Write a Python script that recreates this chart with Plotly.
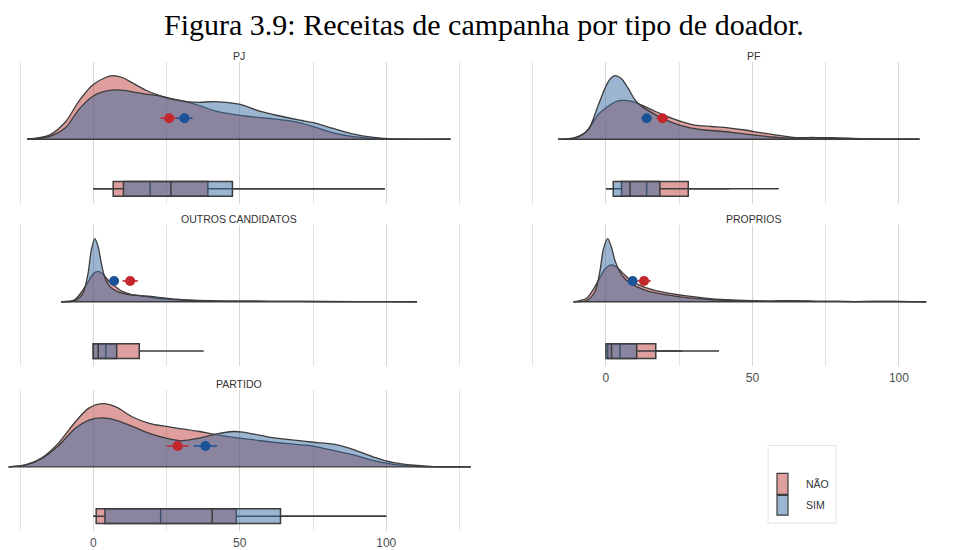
import plotly.graph_objects as go

# ---------------- dados ----------------
paineis = ["PJ", "PF", "OUTROS CANDIDATOS", "PROPRIOS", "PARTIDO"]
grupos = ["NÃO", "SIM"]

# densidades escaladas (maior curva de cada painel = 1)
pj_x_nao = [-22.6, -15.2, -9.5, -4.9, 0.0, 4.2, 6.5, 9.9, 13.4, 17.9, 22.5, 27.1, 31.7, 36.2,
            41.9, 47.7, 54.5, 61.4, 68.2, 75.1, 81.9, 88.8, 95.7, 104.8, 121.9]
pj_d_nao = [0.0, 0.06, 0.27, 0.60, 0.86, 0.97, 1.0, 0.97, 0.885, 0.77, 0.69, 0.635, 0.59, 0.53,
            0.44, 0.39, 0.35, 0.32, 0.28, 0.20, 0.10, 0.04, 0.01, 0.0, 0.0]
pj_x_sim = [-22.6, -15.2, -9.5, -4.9, 0.0, 4.2, 7.1, 11.1, 13.4, 17.9, 22.5, 27.1, 31.7, 36.2,
            40.8, 45.3, 49.9, 56.8, 63.7, 70.5, 75.1, 81.9, 88.8, 95.7, 102.5, 121.9]
pj_d_sim = [0.0, 0.04, 0.18, 0.47, 0.68, 0.755, 0.775, 0.765, 0.745, 0.71, 0.68, 0.625, 0.59, 0.58,
            0.59, 0.58, 0.55, 0.44, 0.365, 0.30, 0.26, 0.17, 0.08, 0.03, 0.005, 0.0]

pf_x_nao = [-16.3, -10.6, -7.2, -4.9, -2.6, 0.2, 3.1, 5.3, 8.8, 12.2, 16.7, 21.3, 25.8, 30.3,
            36.0, 41.7, 47.4, 53.1, 57.6, 63.9, 70.7, 77.5, 87.7, 107.0]
pf_d_nao = [0.0, 0.026, 0.10, 0.23, 0.39, 0.50, 0.585, 0.61, 0.595, 0.535, 0.44, 0.35, 0.275, 0.22,
            0.20, 0.18, 0.145, 0.10, 0.07, 0.03, 0.02, 0.026, 0.01, 0.0]
pf_x_sim = [-16.3, -10.6, -6.0, -2.6, 0.2, 1.9, 3.3, 5.3, 7.6, 9.9, 11.6, 16.7, 22.4, 28.1,
            33.8, 39.4, 45.1, 50.8, 56.5, 63.9, 70.7, 77.5, 87.7, 107.0]
pf_d_sim = [0.0, 0.016, 0.155, 0.54, 0.855, 0.97, 1.0, 0.95, 0.80, 0.62, 0.54, 0.39, 0.265, 0.185,
            0.145, 0.125, 0.095, 0.065, 0.035, 0.016, 0.03, 0.01, 0.005, 0.0]

oc_x_nao = [-11.0, -6.4, -3.6, -1.8, -0.1, 1.6, 3.3, 5.6, 7.4, 9.7, 13.1, 16.6, 21.1, 25.7,
            32.6, 45.0, 60.0, 80.0, 100.0, 110.5]
oc_d_nao = [0.0, 0.03, 0.18, 0.31, 0.44, 0.48, 0.44, 0.31, 0.245, 0.17, 0.115, 0.09, 0.06, 0.04,
            0.026, 0.012, 0.008, 0.005, 0.003, 0.0]
oc_x_sim = [-11.0, -6.4, -3.6, -1.8, -0.7, 0.5, 1.6, 2.8, 3.9, 5.6, 8.5, 12.0, 15.4, 21.1,
            28.0, 34.9, 44.0, 60.0, 80.0, 100.0, 110.5]
oc_d_sim = [0.0, 0.016, 0.13, 0.44, 0.81, 1.0, 0.885, 0.60, 0.39, 0.245, 0.156, 0.115, 0.10, 0.078,
            0.04, 0.02, 0.01, 0.008, 0.004, 0.003, 0.0]

pr_x_nao = [-11.1, -6.6, -3.75, -2.0, -0.3, 1.9, 3.6, 5.9, 8.2, 11.6, 16.1, 21.8, 27.5, 35.5,
            44.5, 55.0, 63.0, 72.0, 85.0, 98.0, 109.3]
pr_d_nao = [0.0, 0.057, 0.24, 0.39, 0.52, 0.585, 0.55, 0.45, 0.35, 0.26, 0.19, 0.135, 0.093, 0.05,
            0.026, 0.012, 0.018, 0.008, 0.004, 0.006, 0.0]
pr_x_sim = [-11.1, -6.6, -3.75, -2.0, -0.9, 0.6, 1.9, 3.1, 4.8, 7.0, 10.5, 15.0, 20.7, 27.5,
            35.5, 44.5, 55.0, 63.0, 72.0, 85.0, 98.0, 109.3]
pr_d_sim = [0.0, 0.02, 0.16, 0.50, 0.83, 1.0, 0.86, 0.65, 0.47, 0.34, 0.24, 0.16, 0.11, 0.067,
            0.036, 0.02, 0.01, 0.016, 0.008, 0.004, 0.005, 0.0]

pa_x_nao = [-28.9, -23.2, -17.5, -11.8, -6.1, -1.5, 3.1, 7.7, 13.4, 19.1, 24.8, 30.5, 36.2, 40.8,
            47.7, 54.5, 61.4, 68.2, 75.1, 81.9, 88.8, 95.7, 102.5, 109.4, 116.2, 128.8]
pa_d_nao = [0.0, 0.03, 0.145, 0.38, 0.715, 0.93, 1.0, 0.95, 0.79, 0.69, 0.64, 0.60, 0.56, 0.52,
            0.466, 0.43, 0.39, 0.36, 0.33, 0.26, 0.19, 0.10, 0.04, 0.01, 0.002, 0.0]
pa_x_sim = [-28.9, -23.2, -17.5, -11.8, -6.1, -1.5, 3.1, 7.7, 13.4, 19.1, 24.8, 30.5, 36.2, 41.9,
            47.7, 51.1, 59.1, 67.1, 75.1, 81.9, 88.8, 95.7, 102.5, 109.4, 116.2, 128.8]
pa_d_sim = [0.0, 0.026, 0.135, 0.34, 0.61, 0.74, 0.777, 0.74, 0.64, 0.53, 0.456, 0.415, 0.456, 0.52,
            0.56, 0.55, 0.48, 0.43, 0.39, 0.36, 0.275, 0.155, 0.067, 0.026, 0.005, 0.0]

# médias com intervalo
media_nao = [25.9, 19.3, 12.6, 13.0, 28.8]
erro_nao = [3.0, 2.0, 2.6, 2.3, 3.7]
media_sim = [31.1, 13.9, 7.1, 9.1, 38.3]
erro_sim = [2.8, 1.8, 1.5, 1.5, 4.0]

# estatísticas dos boxplots
q1_nao = [6.8, 5.3, 0.0, 0.6, 1.0]
med_nao = [19.4, 13.9, 4.3, 4.8, 23.0]
q3_nao = [39.1, 28.1, 15.7, 17.0, 48.8]
min_nao = [0.0, 0.0, 0.0, 0.0, 0.0]
max_nao = [99.5, 59.0, 37.7, 38.6, 100.0]
q1_sim = [10.3, 2.5, 0.0, 0.0, 4.0]
med_sim = [26.5, 8.2, 1.7, 1.9, 40.6]
q3_sim = [47.5, 18.4, 8.0, 10.5, 63.9]
min_sim = [0.0, 0.0, 0.0, 0.0, 0.0]
max_sim = [99.5, 42.0, 8.0, 26.0, 100.0]

dens_x_nao = [pj_x_nao, pf_x_nao, oc_x_nao, pr_x_nao, pa_x_nao]
dens_d_nao = [pj_d_nao, pf_d_nao, oc_d_nao, pr_d_nao, pa_d_nao]
dens_x_sim = [pj_x_sim, pf_x_sim, oc_x_sim, pr_x_sim, pa_x_sim]
dens_d_sim = [pj_d_sim, pf_d_sim, oc_d_sim, pr_d_sim, pa_d_sim]

# ---------------- estilo ----------------
W, H = 959, 550
FILL_NAO = "rgba(192,64,64,0.5)"
FILL_SIM = "rgba(55,105,160,0.5)"
COR_NAO = "#c3262b"
COR_SIM = "#1b5396"
LINHA = "#3c3c3c"
GRADE = "#d6d6d6"
GRADE_MENOR = "#e2e2e2"
FONTE = "Liberation Sans"

POS_BOX = -0.78
LARG_BOX = 0.234
Y_MEDIA = 0.33
Y_RANGE = [-1.016, 1.219]

# posição (px) de cada painel: coluna, faixa vertical da área de plotagem
COLS = {0: (3, 478, [-30.8, 131.3]), 1: (516, 959, [-30.7, 120.5])}
ROWS = [(62, 205), (226, 368), (392, 534)]
LAYOUT_PAINEL = [(0, 0), (1, 0), (0, 1), (1, 1), (0, 2)]
COM_ROTULOS = [False, False, False, True, True]
CENTRO_TITULO = {0: 239, 1: 753}


def px_x(p):
    return p / W


def px_y(p):
    return 1 - p / H


fig = go.Figure()
layout = {}

for i, nome in enumerate(paineis):
    col, row = LAYOUT_PAINEL[i]
    x0, x1, xr = COLS[col]
    top, bot = ROWS[row]
    sx = "" if i == 0 else str(i + 1)
    xa, ya = "x" + sx, "y" + sx

    for xs, ds, fill in ((dens_x_nao[i], dens_d_nao[i], FILL_NAO),
                         (dens_x_sim[i], dens_d_sim[i], FILL_SIM)):
        fig.add_trace(go.Scatter(
            x=xs, y=ds, mode="lines", fill="tozeroy", fillcolor=fill,
            line=dict(color=LINHA, width=1.3, shape="spline", smoothing=0.8),
            xaxis=xa, yaxis=ya, showlegend=False, hoverinfo="skip"))
    # linha de base das densidades
    xmin = min(dens_x_nao[i][0], dens_x_sim[i][0])
    xmax = max(dens_x_nao[i][-1], dens_x_sim[i][-1])
    fig.add_trace(go.Scatter(
        x=[xmin, xmax], y=[0, 0], mode="lines",
        line=dict(color=LINHA, width=1.4), xaxis=xa, yaxis=ya,
        showlegend=False, hoverinfo="skip"))

    for q1, md, q3, lo, hi, fill, g in (
            (q1_nao, med_nao, q3_nao, min_nao, max_nao, FILL_NAO, grupos[0]),
            (q1_sim, med_sim, q3_sim, min_sim, max_sim, FILL_SIM, grupos[1])):
        fig.add_trace(go.Box(
            orientation="h", y=[POS_BOX], q1=[q1[i]], median=[md[i]], q3=[q3[i]],
            lowerfence=[lo[i]], upperfence=[hi[i]], width=LARG_BOX,
            fillcolor=fill, line=dict(color=LINHA, width=1.5), whiskerwidth=0,
            boxpoints=False, name=g, xaxis=xa, yaxis=ya, showlegend=False,
            hoverinfo="skip"))

    for m, e, c in ((media_nao, erro_nao, COR_NAO), (media_sim, erro_sim, COR_SIM)):
        fig.add_trace(go.Scatter(
            x=[m[i]], y=[Y_MEDIA], mode="markers",
            marker=dict(color=c, size=10),
            error_x=dict(type="data", array=[e[i]], color=c, thickness=1.6, width=0),
            xaxis=xa, yaxis=ya, showlegend=False, hoverinfo="skip"))

    layout["xaxis" + sx] = dict(
        domain=[px_x(x0), px_x(x1)], range=xr, anchor=ya,
        tick0=0, dtick=50, showgrid=True, gridcolor=GRADE, gridwidth=1.2,
        minor=dict(tick0=0, dtick=25, showgrid=True, gridcolor=GRADE_MENOR, gridwidth=1),
        zeroline=False, showline=False, ticks="", ticklabelstandoff=3,
        showticklabels=COM_ROTULOS[i],
        tickfont=dict(family=FONTE, size=12, color="#4d4d4d"),
    )
    layout["yaxis" + sx] = dict(
        domain=[px_y(bot), px_y(top)], range=Y_RANGE, anchor=xa,
        visible=False, fixedrange=True)

    fig.add_annotation(
        x=px_x(CENTRO_TITULO[col]), xref="paper", y=px_y(top - 6), yref="paper", text=nome,
        showarrow=False, font=dict(family=FONTE, size=10.5, color="#333333"),
        xanchor="center", yanchor="middle")

# título
fig.add_annotation(
    x=px_x(484), y=px_y(25), xref="paper", yref="paper",
    text="Figura 3.9: Receitas de campanha por tipo de doador.",
    showarrow=False, font=dict(family="Liberation Serif", size=30, color="black"),
    xanchor="center", yanchor="middle")

# legenda
fig.add_shape(type="rect", xref="paper", yref="paper",
              x0=px_x(768), x1=px_x(836), y0=px_y(526), y1=px_y(448),
              line=dict(color="#e4e4e4", width=1), fillcolor="white", layer="below")
for g, fill, yt, yb in ((grupos[0], FILL_NAO, 476, 497), (grupos[1], FILL_SIM, 498, 518)):
    fig.add_shape(type="rect", xref="paper", yref="paper",
                  x0=px_x(777), x1=px_x(788), y0=px_y(yb), y1=px_y(yt),
                  line=dict(color=LINHA, width=1.2), fillcolor=fill)
    fig.add_annotation(x=px_x(804), y=px_y((yt + yb) / 2), xref="paper", yref="paper",
                       text=g, showarrow=False, xanchor="left", yanchor="middle",
                       font=dict(family=FONTE, size=10.5, color="#333333"))

fig.update_layout(
    width=W, height=H, margin=dict(l=0, r=0, t=0, b=0),
    paper_bgcolor="white", plot_bgcolor="white",
    boxmode="overlay", showlegend=False, **layout)

fig.write_html("out.html")
